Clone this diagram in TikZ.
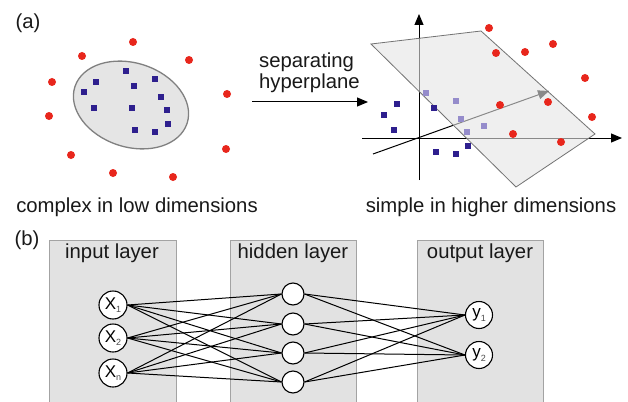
\documentclass[tikz,border=0pt]{standalone}
\usepackage{fontspec}
\setmainfont{Liberation Sans}
\usetikzlibrary{arrows.meta}
\definecolor{myred}{HTML}{E8261C}
\definecolor{myblue}{HTML}{2E1F8E}
\definecolor{mylight}{HTML}{958CCB}
\definecolor{boxfill}{HTML}{E2E2E2}
\definecolor{boxedge}{HTML}{A3A3A3}
\tikzset{
  reddot/.style={circle,fill=myred,inner sep=0pt,minimum size=8pt},
  bsq/.style={rectangle,fill=myblue,inner sep=0pt,minimum size=6.5pt},
  lsq/.style={rectangle,fill=mylight,inner sep=0pt,minimum size=6.5pt},
  lbl/.style={font=\fontsize{20.3}{24}\selectfont,inner sep=0pt,text=black!90},
  innode/.style={circle,draw=black,fill=white,line width=1.1pt,minimum size=28pt,inner sep=0pt,font=\fontsize{17}{19}\selectfont},
  hidnode/.style={circle,draw=black,fill=white,line width=1.1pt,minimum size=22pt,inner sep=0pt},
  outnode/.style={circle,draw=black,fill=white,line width=1.1pt,minimum size=27pt,inner sep=0pt,font=\fontsize{17}{19}\selectfont},
  conn/.style={line width=1pt,black},
  axis/.style={line width=1pt,black,-{Triangle[length=11pt,width=9pt]}},
}
\newcommand{\sub}[1]{\raisebox{-0.4ex}{\fontsize{9}{10}\selectfont\color{black!70}#1}}
\begin{document}
\begin{tikzpicture}[x=1pt,y=-1pt]
\useasboundingbox (0,0) rectangle (628,401);
\fill[white] (0,0) rectangle (628,401);

% ---------- (a) left
\node[lbl] (la) at (28,23) {(a)};
\draw[line width=1.3pt,draw=black!50,fill=black!10,rotate around={-18:(131,105)}] (131,105) ellipse (59 and 42);
\foreach \p [count=\i] in {(133,42),(82,56),(189,60),(52,82),(227,94),(49,116),(226,149),(71,155),(113,173),(173,177)}
  \node[reddot] (rl\i) at \p {};
\foreach \p [count=\i] in {(126,71),(96,82),(155,79),(84,92),(134,86),(161,97),(94,108),(132,108),(167,110),(168,124),(135,130),(155,132)}
  \node[bsq] (bl\i) at \p {};
\node[lbl] (capl) at (137,207) {complex in low dimensions};

% arrow + label
\coordinate (arS) at (252,102);
\coordinate (arE) at (368,102);
\draw[line width=1pt,-{Triangle[length=11pt,width=9pt]}] (arS) -- (arE);
\node[lbl,align=left,anchor=south west] (sep) at (259,93) {separating\\[-3pt]hyperplane};

% ---------- (a) right
\coordinate (O) at (419,138);
\coordinate (yb) at (419,180);
\coordinate (yt) at (419,14);
\coordinate (xl) at (362,138);
\coordinate (xr) at (622,138);
\coordinate (dl) at (373,154);
\coordinate (dt) at (549,91);
\draw[axis] (yb) -- (yt);
\draw[axis] (xl) -- (xr);
\draw[line width=1pt,black,-{Triangle[length=11pt,width=9pt]}] (dl) -- (dt);
\fill[black!10,fill opacity=0.6] (371,44) -- (481,31) -- (595,134) -- (516,187) -- cycle;
\draw[black!55,line width=0.8pt] (371,44) -- (481,31) -- (595,134) -- (516,187) -- cycle;
\foreach \p [count=\i] in {(489,28),(553,44),(496,53),(525,52),(585,78),(500,105),(548,102),(592,117),(513,134),(561,142)}
  \node[reddot] (rr\i) at \p {};
\foreach \p [count=\i] in {(397,104),(384,115),(394,130),(434,108),(468,146),(436,152),(456,154)}
  \node[bsq] (br\i) at \p {};
\foreach \p [count=\i] in {(426,93),(456,101),(461,119),(484,126),(467,132)}
  \node[lsq] (lr\i) at \p {};
\node[lbl] (capr) at (491,207) {simple in higher dimensions};

% ---------- (b)
\node[lbl] (lb) at (27,240) {(b)};
\foreach \xa/\xb in {49/176,230/356,417/543}{
  \fill[boxfill] (\xa,240) rectangle (\xb,402);
  \draw[boxedge,line width=0.9pt] (\xa,402) -- (\xa,240) -- (\xb,240) -- (\xb,402);
}
\node[lbl] (tin) at (112,253) {input layer};
\node[lbl] (thid) at (293,253) {hidden layer};
\node[lbl] (tout) at (480,253) {output layer};

\node[innode] (x1) at (113,305) {X\sub{1}};
\node[innode] (x2) at (113,338) {X\sub{2}};
\node[innode] (x3) at (113,373) {X\sub{n}};
\node[hidnode] (h1) at (293,294) {};
\node[hidnode] (h2) at (293,324) {};
\node[hidnode] (h3) at (293,353) {};
\node[hidnode] (h4) at (293,382) {};
\node[outnode] (y1) at (479,315) {y\sub{1}};
\node[outnode] (y2) at (479,355) {y\sub{2}};

\foreach \a in {x1,x2,x3}
  \foreach \b in {h1,h2,h3,h4}
    \draw[conn] (\a.east) -- (\b.west);
\foreach \a in {h1,h2,h3,h4}
  \foreach \b in {y1,y2}
    \draw[conn] (\a.east) -- (\b.west);
\end{tikzpicture}
\end{document}
